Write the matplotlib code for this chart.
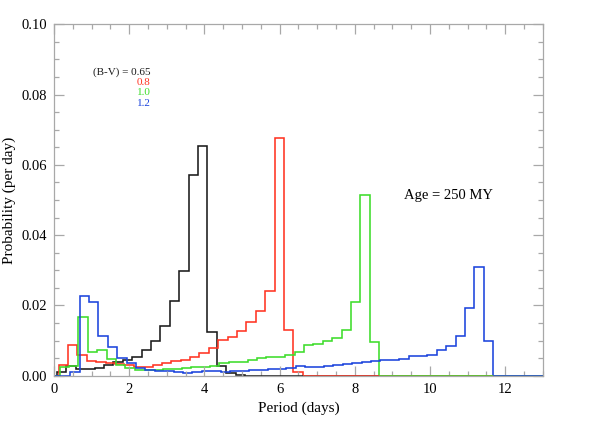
import numpy as np
import matplotlib
matplotlib.use('Agg')
import matplotlib.pyplot as plt
from matplotlib.ticker import MultipleLocator

# histogram values (probability per day), 0.25 day bins, each colour has its own bin start
bin_width = 0.25

black_start = 0.08
black_vals = [0.0010, 0.0028, 0.0020, 0.0018, 0.0022, 0.0030, 0.0040, 0.0045,
              0.0054, 0.0073, 0.0100, 0.0141, 0.0213, 0.0299, 0.0570, 0.0654,
              0.0125, 0.0028, 0.0008, 0.0002]

red_start = 0.12
red_vals = [0.0030, 0.0086, 0.0058, 0.0042, 0.0040, 0.0035, 0.0032, 0.0030,
            0.0026, 0.0026, 0.0030, 0.0036, 0.0042, 0.0046, 0.0052, 0.0064,
            0.0078, 0.0102, 0.0111, 0.0127, 0.0154, 0.0184, 0.0242, 0.0677,
            0.0130, 0.0011]

green_start = 0.15
green_vals = [0.0026, 0.0027, 0.0168, 0.0068, 0.0072, 0.0048, 0.0030, 0.0022,
              0.0015, 0.0015, 0.0016, 0.0018, 0.0020, 0.0022, 0.0024, 0.0026,
              0.0028, 0.0036, 0.0038, 0.0040, 0.0045, 0.0049, 0.0052, 0.0054,
              0.0060, 0.0067, 0.0087, 0.0089, 0.0100, 0.0106, 0.0130, 0.0210,
              0.0515, 0.0095]

blue_start = 0.18
blue_vals = [0.0000, 0.0011, 0.0227, 0.0211, 0.0113, 0.0083, 0.0049, 0.0035,
             0.0021, 0.0015, 0.0013, 0.0012, 0.0010, 0.0008, 0.0010, 0.0012,
             0.0012, 0.0010, 0.0013, 0.0014, 0.0016, 0.0017, 0.0018, 0.0020,
             0.0021, 0.0028, 0.0026, 0.0024, 0.0028, 0.0031, 0.0034, 0.0037,
             0.0040, 0.0043, 0.0045, 0.0044, 0.0048, 0.0056, 0.0055, 0.0060,
             0.0073, 0.0085, 0.0114, 0.0194, 0.0310, 0.0100]

bv_labels = ['0.65', '0.8', '1.0', '1.2']
colors = ['#1a1a1a', '#ff3322', '#3ddd2a', '#1c44dd']

series = [(black_start, black_vals), (red_start, red_vals),
          (green_start, green_vals), (blue_start, blue_vals)]

plt.rcParams['font.family'] = 'Liberation Serif'

fig = plt.figure(figsize=(5.91, 4.26), dpi=100)
ax = fig.add_axes([0.0914, 0.1181, 0.8269, 0.8249])

xmax = 13.0
lw = 1.15
for (start, vals), c in zip(series, colors):
    edges = start + bin_width * np.arange(len(vals) + 1)
    ax.hlines(0, 0, start, color=c, lw=lw, clip_on=False)
    ax.stairs(vals, edges, color=c, lw=lw, baseline=0, clip_on=False)
    ax.hlines(0, edges[-1], xmax, color=c, lw=lw, clip_on=False)

ax.set_xlim(0, xmax)
ax.set_ylim(0, 0.10)
ax.xaxis.set_major_locator(MultipleLocator(2))
ax.xaxis.set_minor_locator(MultipleLocator(0.5))
ax.yaxis.set_major_locator(MultipleLocator(0.02))
ax.yaxis.set_minor_locator(MultipleLocator(0.005))
ax.yaxis.set_major_formatter(matplotlib.ticker.FormatStrFormatter('%.2f'))

gray = '#a8a8a8'
for s in ax.spines.values():
    s.set_color(gray)
    s.set_linewidth(0.9)
ax.tick_params(which='both', direction='in', top=True, right=True,
               color=gray, labelsize=10.5, pad=5)
ax.tick_params(which='major', length=7, width=0.9)
ax.tick_params(which='minor', length=3.5, width=0.9)

ax.set_xlabel('Period (days)', fontsize=11, labelpad=4)
ax.set_ylabel('Probability (per day)', fontsize=11, labelpad=4)

# B-V legend text
ax.text(2.57, 0.0864, '(B-V) = ' + bv_labels[0], color=colors[0],
        fontsize=8, ha='right', va='center')
for i in range(1, 4):
    ax.text(2.57, 0.0864 - i * 0.00295, bv_labels[i], color=colors[i],
            fontsize=8, ha='right', va='center')

ax.text(9.3, 0.0512, 'Age = 250 MY', fontsize=10.5, ha='left', va='center')

fig.savefig('out.png', dpi=100)
